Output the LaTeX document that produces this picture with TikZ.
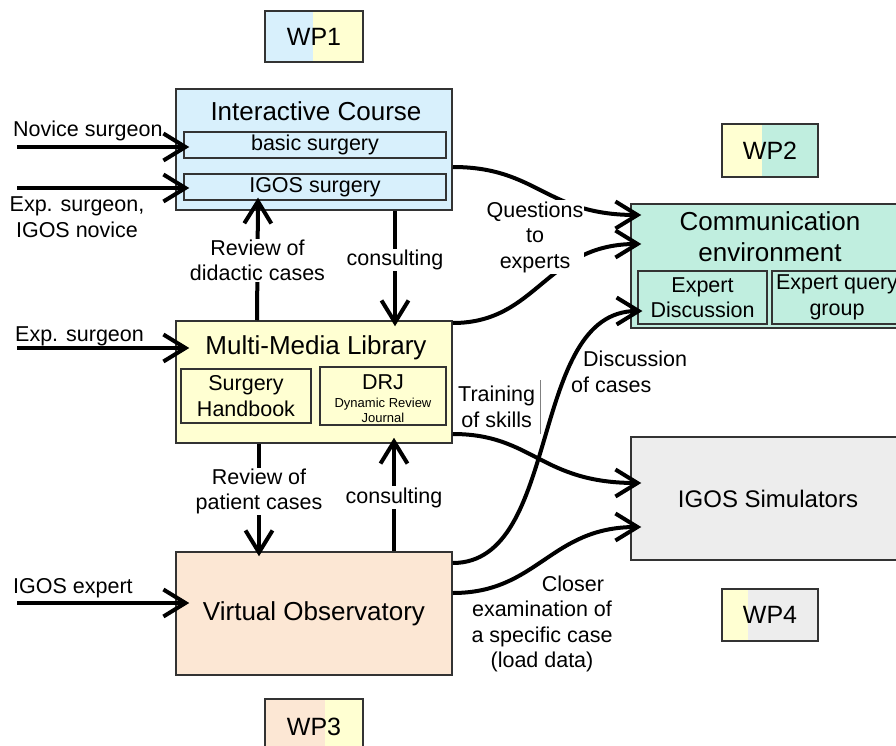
\documentclass[tikz,border=0pt]{standalone}
\usepackage{xcolor}
\usepackage{fontspec}
\setmainfont{Liberation Sans}
\usepackage{tikz}
\usetikzlibrary{
	arrows.meta
}

\definecolor{courseblue}{HTML}{D8F0FC}
\definecolor{libyellow}{HTML}{FFFFD2}
\definecolor{commgreen}{HTML}{C0EEDF}
\definecolor{simgray}{HTML}{EDEDED}
\definecolor{obspeach}{HTML}{FCE7D4}

\begin{document}
\begin{tikzpicture}[x=1pt, y=-1pt,
		box/.style={draw=black!80, line width=1.5pt, inner sep=0pt},
		part/.style={draw=black!80, line width=1.2pt, inner sep=0pt},
		title/.style={font=\fontsize{26}{31}\selectfont, align=center},
		txt/.style={font=\fontsize{21.5}{25.5}\selectfont, align=center},
		small/.style={font=\fontsize{13}{15}\selectfont, align=center},
		lbl/.style={txt, fill=white, inner sep=1pt},
		flow/.style={line width=4pt,
			-{Straight Barb[length=22pt, width=27pt]}}]
		\useasboundingbox (0,0) rectangle (896,746);

		% work packages
		\fill[courseblue] (265,11) rectangle (313,62);
		\fill[libyellow] (313,11) rectangle (363,62);
		\node[box, minimum width=98pt, minimum height=51pt, font=\fontsize{25}{30}\selectfont] (wp1) at (314,36.5) {WP1};
		\fill[libyellow] (722,124) rectangle (762,177);
		\fill[commgreen] (762,124) rectangle (818,177);
		\node[box, minimum width=96pt, minimum height=53pt, font=\fontsize{25}{30}\selectfont] (wp2) at (770,150.5) {WP2};
		\fill[obspeach] (265,699) rectangle (325,760);
		\fill[libyellow] (325,699) rectangle (363,760);
		\node[box, minimum width=98pt, minimum height=61pt] (wp3) at (314,729.5) {};
		\node[anchor=base, inner sep=0pt, font=\fontsize{25}{30}\selectfont] (wp3text) at (314,735) {WP3};
		\fill[libyellow] (722,589) rectangle (748,641);
		\fill[simgray] (748,589) rectangle (818,641);
		\node[box, minimum width=96pt, minimum height=52pt, font=\fontsize{25}{30}\selectfont] (wp4) at (770,615) {WP4};

		% interactive course
		\node[box, fill=courseblue, minimum width=276pt, minimum height=121pt] (course) at (314,149.5) {};
		\node[title, anchor=base, inner sep=0pt] (coursetitle) at (316,121) {Interactive Course};
		\node[part, fill=courseblue, minimum width=262pt, minimum height=26pt, txt] (basic) at (315,145) {basic surgery};
		\node[part, fill=courseblue, minimum width=262pt, minimum height=26pt, txt] (igos) at (315,187) {IGOS surgery};

		% multi-media library
		\node[box, fill=libyellow, minimum width=276pt, minimum height=122pt] (library) at (314,382) {};
		\node[title, anchor=base, inner sep=0pt] (librarytitle) at (316,354) {Multi-Media Library};
		\node[part, minimum width=130pt, minimum height=54pt, txt] (handbook) at (246,396) {Surgery\\Handbook};
		\node[part, minimum width=126pt, minimum height=58pt] (drj) at (383,396) {};
		\node[txt, anchor=base, inner sep=0pt] (drjtext) at (383,389) {DRJ};
		\node[small, inner sep=0pt] (drjlong) at (383,410) {Dynamic Review\\Journal};

		% virtual observatory
		\node[box, fill=obspeach, minimum width=276pt, minimum height=123pt, title] (observatory) at (314,613.5) {Virtual Observatory};

		% communication environment
		\node[box, fill=commgreen, minimum width=274pt, minimum height=124pt] (comm) at (768,266) {};
		\node[title, inner sep=0pt] (commtitle) at (770,237) {Communication\\environment};
		\node[part, minimum width=129pt, minimum height=53pt, txt] (discussion) at (702.5,297.5) {Expert\\Discussion};
		\node[part, minimum width=130pt, minimum height=53pt, txt] (query) at (837,297.5) {Expert query\\group};

		% simulators
		\node[box, fill=simgray, minimum width=274pt, minimum height=123pt, font=\fontsize{24}{29}\selectfont] (sim) at (768,498.5) {IGOS Simulators};

		% users
		\node[txt, anchor=base west, inner sep=0pt] (novicelbl) at (13,137) {Novice surgeon};
		\node[txt, inner sep=0pt] (expnovicelbl) at (77,217) {Exp. surgeon,\\IGOS novice};
		\node[txt, anchor=base west, inner sep=0pt] (explbl) at (15,341) {Exp. surgeon};
		\node[txt, anchor=base west, inner sep=0pt] (expertlbl) at (13,593) {IGOS expert};
		\coordinate (novice) at (17,147);
		\coordinate (expnovice) at (17,188);
		\coordinate (exp) at (17,348);
		\coordinate (expert) at (17,603);

		\draw[flow, shorten >=-14pt] (novice) -- (novice -| course.west);
		\draw[flow, shorten >=-14pt] (expnovice) -- (expnovice -| course.west);
		\draw[flow, shorten >=-14pt] (exp) -- (exp -| library.west);
		\draw[flow, shorten >=-14pt] (expert) -- (expert -| observatory.west);

		% between the boxes
		\draw[flow, shorten >=-3pt] ([xshift=-57pt]library.north)
			-- node[lbl] {Review of\\didactic cases} ([xshift=-57pt]igos.south);
		\draw[flow, shorten >=-6pt] ([xshift=81pt]course.south)
			-- node[lbl, pos=0.45] {consulting} ([xshift=81pt]library.north);
		\draw[flow, shorten >=-5pt] ([xshift=-55pt]library.south)
			-- node[lbl, pos=0.445] {Review of\\patient cases} ([xshift=-55pt]observatory.north);
		\draw[flow, shorten >=-6pt] ([xshift=80pt]observatory.north)
			-- node[lbl] {consulting} ([xshift=80pt]library.south);

		\draw[flow, shorten >=-11pt] ([yshift=-17.5pt]course.east)
			.. controls +(85,0) and +(-85,0) .. ([yshift=51pt]comm.west);
		\draw[flow, shorten >=-11pt] ([yshift=59pt]library.east)
			.. controls +(85,0) and +(-85,0) .. ([yshift=22pt]comm.west);
		\draw[flow, shorten >=-11pt] ([yshift=-52pt]library.east)
			.. controls +(80,0) and +(-90,0) .. ([yshift=15.5pt]sim.west);
		\draw[flow, shorten >=-5pt] ([yshift=50.5pt]observatory.east)
			.. controls +(110,0) and +(-110,0) .. ([yshift=-13.5pt]discussion.west);
		\draw[flow, shorten >=-11pt] ([yshift=20.5pt]observatory.east)
			.. controls +(85,0) and +(-80,0) .. ([yshift=-28.5pt]sim.west);

		\node[lbl] (questions) at (535,237) {Questions\\to\\experts};
		\node[txt, anchor=west, inner sep=0pt] (training) at (458,407) {Training\\of skills};
		\draw[line width=0.6pt, black!50, shorten <=-6pt, shorten >=-6pt]
			([xshift=5pt]training.north east) -- ([xshift=5pt]training.south east);
		\node[txt, anchor=west, align=left, inner sep=0pt] (discusslbl) at (571,372) {\hspace*{12pt}Discussion\\of cases};
		\node[txt, inner sep=0pt] (closer) at (542,624) {\hspace*{62pt}Closer\\examination of\\a specific case\\(load data)};
	\end{tikzpicture}
\end{document}
